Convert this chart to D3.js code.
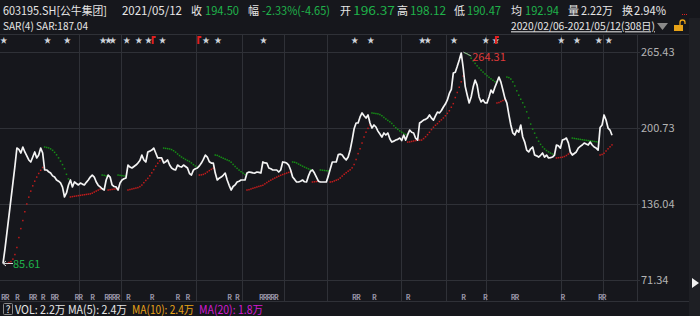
<!DOCTYPE html>
<html>
<head>
<meta charset="utf-8">
<script src="https://cdn.jsdelivr.net/npm/d3@7"></script>
<style>
  html, body { margin: 0; padding: 0; background: #16171c; }
  svg { display: block; }
</style>
</head>
<body>
<div id="chart"></div>
<script>
// --- Data ---
// daily closes, 2020/02/06 .. 2021/05/12, 308 trading days
const closes = [
  85.6, 98, 112, 126, 140, 154, 168, 183.6, 182.5, 179.4,
  184.5, 180.3, 177.0, 173.5, 171.8, 176.0, 180.3, 175.2, 177.7, 183.6,
  179.4, 165.0, 165.0, 163.5, 162.4, 160.0, 159.0, 156.5, 155.5, 154.0,
  150.5, 142.1, 145.5, 152.3, 156.5, 150.6, 154.8, 153.5, 152.3, 153.9,
  153.0, 152.3, 154.5, 156.5, 159.0, 160.7, 159.0, 154.8, 152.0, 150.6,
  149.0, 148.0, 156.5, 160.7, 159.0, 152.3, 151.0, 150.6, 148.0, 153.9,
  156.5, 157.5, 158.2, 169.2, 167.5, 166.7, 168.0, 169.2, 170.9, 173.0,
  177.7, 173.5, 171.8, 180.3, 181.0, 181.9, 183.6, 179.4, 175.2, 175.2,
  175.2, 171.0, 172.0, 173.5, 169.2, 166.7, 165.5, 165.0, 169.2, 168.0,
  167.5, 169.2, 168.0, 166.7, 162.0, 160.7, 165.0, 166.0, 166.7, 168.5,
  170.9, 174.0, 177.7, 176.0, 172.0, 170.9, 170.9, 162.4, 156.5, 158.0,
  159.0, 160.5, 162.4, 156.5, 152.0, 148.0, 151.0, 152.3, 154.8, 155.5,
  156.5, 156.5, 156.5, 162.4, 163.3, 163.0, 162.5, 162.4, 163.3, 163.0,
  162.4, 171.8, 171.0, 170.9, 166.7, 166.0, 165.0, 165.0, 165.0, 163.3,
  165.0, 171.8, 171.5, 170.9, 169.2, 165.0, 159.0, 157.0, 154.8, 154.8,
  155.5, 156.5, 155.0, 154.8, 160.0, 164.0, 165.0, 162.4, 159.0, 155.5,
  154.8, 154.8, 154.8, 154.8, 160.0, 166.0, 171.8, 171.8, 171.8, 178.0,
  178.5, 177.7, 175.2, 173.5, 176.0, 182.0, 190.4, 200.0, 204.9, 204.9,
  210.0, 213.4, 211.0, 209.1, 211.7, 204.9, 200.6, 203.2, 201.5, 198.0,
  195.5, 193.0, 196.4, 194.7, 196.4, 191.5, 188.7, 189.5, 190.4, 191.0,
  192.1, 190.0, 194.7, 190.4, 195.0, 198.9, 197.0, 196.4, 192.0, 190.4,
  204.9, 206.0, 207.4, 208.0, 209.1, 211.7, 209.0, 207.4, 211.0, 214.2,
  213.4, 215.5, 218.5, 221.0, 224.5, 230.0, 233.5, 247.3, 248.0, 253.0,
  258.4, 264.3, 251.6, 236.0, 228.7, 221.9, 227.0, 235.4, 241.4, 237.1,
  227.0, 222.8, 224.5, 222.0, 221.9, 227.0, 232.9, 230.4, 235.4, 239.6,
  243.9, 239.6, 232.9, 226.0, 221.9, 212.0, 203.2, 196.4, 194.7, 198.9,
  197.2, 203.2, 193.0, 188.7, 181.9, 180.3, 183.0, 184.5, 177.7, 177.0,
  176.0, 177.5, 179.4, 176.0, 177.7, 175.2, 175.5, 176.0, 177.7, 186.2,
  185.5, 183.6, 190.4, 191.0, 192.1, 188.0, 180.3, 177.7, 179.0, 180.3,
  183.6, 185.0, 186.2, 187.9, 187.0, 186.2, 188.7, 186.2, 184.5, 183.6,
  181.9, 201.0, 203.2, 211.7, 207.4, 200.6, 198.9, 194.5
];

const yTicks = [265.43, 200.73, 136.04, 71.34];
// first trading day of the months that get a grid line
const monthStarts = [39, 60, 98, 121, 142, 164, 201, 224, 244, 282, 303];
// info-mine stars and red flags along the top
const starDays = [0, 22, 32, 50, 51, 55, 62, 68, 73, 80, 102, 108, 131, 177, 185, 211, 213, 227, 243, 248, 281, 289, 300, 305];
const flagDays = [76, 99, 249];
// "R" marks along the bottom
const rDays = [0, 3, 7, 14, 15, 20, 25, 27, 37, 40, 45, 52, 53, 55, 56, 63, 75, 88, 93, 114, 118,
  130, 131, 133, 135, 136, 177, 178, 187, 204, 232, 243, 257, 259, 282, 301, 303];

const maxLabel = "264.31";
const minLabel = "85.61";

// header pieces: text, left and right edge
const header = [
  { t: "603195.SH[公牛集团]", x: 3, x2: 107, c: "#e6e6e6" },
  { t: "2021/05/12", x: 122, x2: 182, c: "#e6e6e6" },
  { t: "收", x: 191, x2: 202, c: "#e6e6e6" },
  { t: "194.50", x: 205, x2: 239, c: "#1fb24a" },
  { t: "幅", x: 248, x2: 259, c: "#e6e6e6" },
  { t: "-2.33%(-4.65)", x: 262, x2: 330, c: "#1fb24a" },
  { t: "开", x: 340, x2: 351, c: "#e6e6e6" },
  { t: "196.37", x: 353, x2: 395, c: "#1fb24a" },
  { t: "高", x: 397, x2: 408, c: "#e6e6e6" },
  { t: "198.12", x: 410, x2: 446, c: "#1fb24a" },
  { t: "低", x: 454, x2: 465, c: "#e6e6e6" },
  { t: "190.47", x: 467, x2: 501, c: "#1fb24a" },
  { t: "均", x: 511, x2: 522, c: "#e6e6e6" },
  { t: "192.94", x: 525, x2: 559, c: "#1fb24a" },
  { t: "量", x: 568, x2: 579, c: "#e6e6e6" },
  { t: "2.22万", x: 581, x2: 613, c: "#e6e6e6" },
  { t: "换", x: 622, x2: 633, c: "#e6e6e6" },
  { t: "2.94%", x: 634, x2: 666, c: "#e6e6e6" }
];

const footer = [
  { t: "VOL: 2.2万 MA(5): 2.4万", x: 15, x2: 127, c: "#e6e6e6" },
  { t: "MA(10): 2.4万", x: 132, x2: 194, c: "#e8a317" },
  { t: "MA(20): 1.8万", x: 199, x2: 263, c: "#d21ad2" }
];

// --- Layout ---
const W = 700, H = 316;
const plotRight = 637;
const gridTop = 34, gridBottom = 301;
const font = "'Noto Sans CJK SC', 'Noto Sans', sans-serif";

const x = d3.scaleLinear().domain([0, closes.length - 1]).range([3, 612]);
const y = d3.scaleLinear().domain([71.34, 265.43]).range([280.3, 51.7]);

// parabolic SAR on the closes, N=4, step 2%, max 20%
function parabolicSar(v, n, step, maxAf) {
  const out = [];
  const head = v.slice(0, n);
  let up = v[n - 1] >= v[0];
  let s = up ? d3.min(head) : d3.max(head);
  let ep = up ? d3.max(head) : d3.min(head);
  let af = step;
  for (let i = n - 2; i < v.length; i++) {
    if (i > n - 2) {
      s = s + af * (ep - s);
      if (up) {
        s = Math.min(s, v[i - 1], v[Math.max(0, i - 2)]);
        if (v[i] < s) { up = false; s = ep; ep = v[i]; af = step; }
        else if (v[i] > ep) { ep = v[i]; af = Math.min(af + step, maxAf); }
      } else {
        s = Math.max(s, v[i - 1], v[Math.max(0, i - 2)]);
        if (v[i] > s) { up = true; s = ep; ep = v[i]; af = step; }
        else if (v[i] < ep) { ep = v[i]; af = Math.min(af + step, maxAf); }
      }
    }
    out.push({ i, v: s, up });
  }
  return out;
}
const sar = parabolicSar(closes, 4, 0.02, 0.2);

// merge marks that sit on neighbouring days into one label
function cluster(days, gap) {
  const groups = [];
  days.forEach(d => {
    const last = groups[groups.length - 1];
    if (last && d - last.end <= gap) { last.end = d; last.n++; }
    else groups.push({ start: d, end: d, n: 1 });
  });
  return groups;
}

const svg = d3.select("#chart").append("svg")
  .attr("width", W).attr("height", H)
  .style("font-family", font);

svg.append("rect").attr("width", W).attr("height", H).attr("fill", "#16171c");

// right scroll strip
svg.append("rect").attr("x", 689).attr("y", 18).attr("width", 11).attr("height", H - 18).attr("fill", "#1e1f24");
svg.append("path").attr("d", "M692,278 L699,283 L692,288 Z").attr("fill", "#f0f0f0");

// --- Grid ---
const grid = svg.append("g").attr("stroke", "#2f3137").attr("stroke-width", 1).attr("shape-rendering", "crispEdges");
grid.append("line").attr("x1", 0).attr("x2", plotRight + 52).attr("y1", gridTop + 0.5).attr("y2", gridTop + 0.5);
grid.append("line").attr("x1", 0).attr("x2", plotRight + 52).attr("y1", gridBottom + 0.5).attr("y2", gridBottom + 0.5);
grid.append("line").attr("x1", plotRight + 0.5).attr("x2", plotRight + 0.5).attr("y1", gridTop).attr("y2", gridBottom);
grid.selectAll(".h").data(yTicks).join("line")
  .attr("x1", 0).attr("x2", plotRight + 3)
  .attr("y1", d => Math.round(y(d)) + 0.5).attr("y2", d => Math.round(y(d)) + 0.5);
grid.selectAll(".v").data(monthStarts).join("line")
  .attr("x1", d => Math.round(x(d) - 1) + 0.5).attr("x2", d => Math.round(x(d) - 1) + 0.5)
  .attr("y1", gridTop).attr("y2", gridBottom);

// axis labels
svg.append("g").selectAll("text").data(yTicks).join("text")
  .attr("x", 641).attr("y", d => y(d) + 4)
  .attr("fill", "#b4b4b4").attr("font-size", 11)
  .text(d => d.toFixed(2));

// --- SAR dots ---
svg.append("g").selectAll("rect").data(sar).join("rect")
  .attr("x", d => x(d.i) - 0.75).attr("y", d => y(d.v) - 0.75)
  .attr("width", 1.5).attr("height", 1.5)
  .attr("fill", d => d.up ? "#c01c1c" : "#168c16");

// --- Price line ---
svg.append("path")
  .datum(closes)
  .attr("fill", "none")
  .attr("stroke", "#f4f4f4")
  .attr("stroke-width", 1.7)
  .attr("stroke-linejoin", "round")
  .attr("d", d3.line().x((d, i) => x(i)).y(d => y(d)));

// max / min labels
const iMax = d3.maxIndex(closes), iMin = d3.minIndex(closes);
svg.append("path")
  .attr("d", `M${x(iMax) + 2},${y(closes[iMax]) - 1} L${x(iMax) + 10},${y(closes[iMax]) + 3}`)
  .attr("stroke", "#a0a0a0").attr("fill", "none");
svg.append("text").attr("x", x(iMax) + 11).attr("y", y(closes[iMax]) + 8)
  .attr("fill", "#e03a3a").attr("font-size", 11).text(maxLabel);
svg.append("path")
  .attr("d", `M${x(iMin)},${y(closes[iMin])} L${x(iMin) + 10},${y(closes[iMin])} M${x(iMin)},${y(closes[iMin])} l3,-2.5 M${x(iMin)},${y(closes[iMin])} l3,2.5`)
  .attr("stroke", "#d8d8d8").attr("fill", "none");
svg.append("text").attr("x", x(iMin) + 10).attr("y", y(closes[iMin]) + 4)
  .attr("fill", "#1fb24a").attr("font-size", 11).text(minLabel);

// --- Stars and flags ---
svg.append("g").selectAll("text").data(cluster(starDays, 2)).join("text")
  .attr("x", d => x(d.start) - 3).attr("y", 43)
  .attr("fill", "#cfd3da").attr("font-size", 7.5)
  .attr("letter-spacing", -2)
  .text(d => "★".repeat(d.n));
svg.append("g").selectAll("path").data(flagDays).join("path")
  .attr("d", d => `M${x(d) - 2},${44} V${36} H${x(d) + 2} V${38} H${x(d)} V${44} Z`)
  .attr("fill", "#e02020");

// --- R marks ---
svg.append("g").selectAll("text").data(cluster(rDays, 3)).join("text")
  .attr("x", d => x(d.start) - 2).attr("y", 300)
  .attr("fill", "#9a96a8").attr("font-size", 7).attr("font-weight", "bold")
  .attr("letter-spacing", -1)
  .text(d => "R".repeat(d.n));

// --- Header ---
svg.append("g").selectAll("text").data(header).join("text")
  .attr("x", d => d.x).attr("y", 14.5)
  .attr("fill", d => d.c).attr("font-size", 11.5)
  .attr("textLength", d => d.x2 - d.x).attr("lengthAdjust", "spacingAndGlyphs")
  .text(d => d.t);
svg.append("g").selectAll("rect").data([0, 1, 2]).join("rect")
  .attr("x", d => 682 + d * 2).attr("y", 14).attr("width", 1).attr("height", 1).attr("fill", "#e02020");

svg.append("text").attr("x", 3).attr("y", 30.3)
  .attr("fill", "#e6e6e6").attr("font-size", 10.5)
  .attr("textLength", 85).attr("lengthAdjust", "spacingAndGlyphs")
  .text("SAR(4) SAR:187.04");
svg.append("text").attr("x", 511).attr("y", 30.3)
  .attr("fill", "#e6e6e6").attr("font-size", 10.5).attr("text-decoration", "underline")
  .attr("textLength", 144).attr("lengthAdjust", "spacingAndGlyphs")
  .text("2020/02/06-2021/05/12(308日)");
svg.append("path").attr("d", "M657,23 L668,23 L662.5,30 Z").attr("fill", "#8a8a8a");
// lock
svg.append("rect").attr("x", 674).attr("y", 25).attr("width", 9).attr("height", 6).attr("fill", "#e8a317");
svg.append("path").attr("d", "M680,25 V22.5 a2.5,2.5 0 0 1 5,0 V24").attr("stroke", "#e8a317").attr("stroke-width", 1.3).attr("fill", "none");

// --- Footer ---
svg.append("rect").attr("x", 3.5).attr("y", 303.5).attr("width", 9).attr("height", 11).attr("rx", 1)
  .attr("fill", "none").attr("stroke", "#8a8a8a");
svg.append("text").attr("x", 8).attr("y", 313).attr("text-anchor", "middle")
  .attr("fill", "#e6e6e6").attr("font-size", 10).text("?");
svg.append("g").selectAll("text").data(footer).join("text")
  .attr("x", d => d.x).attr("y", 314)
  .attr("fill", d => d.c).attr("font-size", 11.5)
  .attr("textLength", d => d.x2 - d.x).attr("lengthAdjust", "spacingAndGlyphs")
  .text(d => d.t);
</script>
</body>
</html>
